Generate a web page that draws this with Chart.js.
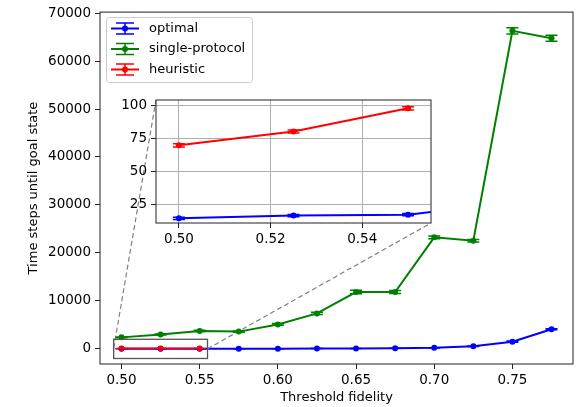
<!DOCTYPE html>
<html>
<head>
<meta charset="utf-8">
<script src="https://cdn.jsdelivr.net/npm/chart.js@4"></script>
<style>
  html, body { margin: 0; padding: 0; background: #fff; }
  #wrap { position: relative; width: 588px; height: 407px; }
  #wrap canvas { position: absolute; left: 0; top: 0; }
</style>
</head>
<body>
<div id="wrap">
  <canvas id="mainChart" width="588" height="407"></canvas>
  <canvas id="insetChart" width="588" height="407"></canvas>
</div>
<script>
// Threshold fidelities on the x axis
const fidelity = [0.5, 0.525, 0.55, 0.575, 0.6, 0.625, 0.65, 0.675, 0.7, 0.725, 0.75, 0.775];

// Mean time steps and error bar half-heights
const optimal = [14.3, 16.4, 17.1, 27, 40, 60, 90, 130, 220, 550, 1500, 4100];
const optimalErr = [0.8, 0.8, 0.8, 1, 2, 3, 5, 8, 15, 40, 120, 120];
const singleProtocol = [2400, 3000, 3750, 3600, 5100, 7400, 11850, 11850, 23250, 22550, 66300, 64750];
const singleErr = [100, 100, 120, 120, 180, 220, 350, 300, 300, 250, 650, 600];
const heuristicFid = [0.5, 0.525, 0.55];
const heuristic = [69.5, 80, 97.5];
const heuristicErr = [1.2, 1.2, 1.2];

// Tick labels
const mainXTicks = [0.5, 0.55, 0.6, 0.65, 0.7, 0.75];
const mainYTicks = [0, 10000, 20000, 30000, 40000, 50000, 60000, 70000];
const insetXTicks = [0.5, 0.52, 0.54];
const insetYTicks = [25, 50, 75, 100];

const legendNames = ['optimal', 'single-protocol', 'heuristic'];
const colors = ['#0000ff', '#008000', '#ff0000'];

Chart.defaults.font.family = 'DejaVu Sans';
Chart.defaults.font.size = 13;
Chart.defaults.color = '#000';

function points(xs, ys) {
  return xs.map((x, i) => ({ x: x, y: ys[i] }));
}

function makeDatasets() {
  const base = { borderWidth: 2, pointRadius: 3, pointBorderWidth: 0, pointHoverRadius: 3, tension: 0, fill: false };
  return [
    Object.assign({}, base, { label: legendNames[0], data: points(fidelity, optimal), errors: optimalErr,
      borderColor: colors[0], backgroundColor: colors[0], order: 2 }),
    Object.assign({}, base, { label: legendNames[1], data: points(fidelity, singleProtocol), errors: singleErr,
      borderColor: colors[1], backgroundColor: colors[1], order: 1 }),
    Object.assign({}, base, { label: legendNames[2], data: points(heuristicFid, heuristic), errors: heuristicErr,
      borderColor: colors[2], backgroundColor: colors[2], order: 0 })
  ];
}

// vertical error bars with caps, clipped to the plot area
const errorBars = {
  id: 'errorBars',
  afterDatasetsDraw(chart) {
    const { ctx, chartArea: a, scales: { x, y } } = chart;
    const cap = 6;
    ctx.save();
    ctx.beginPath();
    ctx.rect(a.left, a.top, a.right - a.left, a.bottom - a.top);
    ctx.clip();
    chart.data.datasets.forEach(ds => {
      ctx.strokeStyle = ds.borderColor;
      ctx.lineWidth = 1.5;
      ds.data.forEach((p, i) => {
        const px = x.getPixelForValue(p.x);
        const y1 = y.getPixelForValue(p.y - ds.errors[i]);
        const y2 = y.getPixelForValue(p.y + ds.errors[i]);
        ctx.beginPath();
        ctx.moveTo(px, y1); ctx.lineTo(px, y2);
        ctx.moveTo(px - cap, y1); ctx.lineTo(px + cap, y1);
        ctx.moveTo(px - cap, y2); ctx.lineTo(px + cap, y2);
        ctx.stroke();
      });
    });
    ctx.restore();
  }
};

// black frame round the axes
const frame = {
  id: 'frame',
  afterDraw(chart) {
    const { ctx, chartArea: a } = chart;
    ctx.save();
    ctx.strokeStyle = '#222';
    ctx.lineWidth = 1;
    ctx.strokeRect(a.left, a.top, a.right - a.left, a.bottom - a.top);
    ctx.restore();
  }
};

const whiteBack = {
  id: 'whiteBack',
  beforeDraw(chart) {
    const { ctx, chartArea: a } = chart;
    ctx.save();
    ctx.fillStyle = '#fff';
    ctx.fillRect(a.left, a.top, a.right - a.left, a.bottom - a.top);
    ctx.restore();
  }
};

function axisOpts(min, max, ticks, fmt, onChart) {
  return {
    type: 'linear', min: min, max: max,
    afterBuildTicks: s => { s.ticks = ticks.map(v => ({ value: v })); },
    grid: { drawOnChartArea: onChart, color: '#b0b0b0', lineWidth: 1, tickLength: 5, tickColor: '#222', tickWidth: 1 },
    border: { display: false },
    ticks: { color: '#000', padding: 4, maxRotation: 0, autoSkip: false, callback: fmt, font: { size: 13.5 } }
  };
}

// inset chart first so the main chart can join its corners
const insetX = axisOpts(0.495, 0.555, insetXTicks, v => v.toFixed(2), true);
insetX.afterFit = s => { s.height = 184; };
insetX.ticks.padding = 3;
const insetY = axisOpts(10.8, 103.8, insetYTicks, v => String(v), true);
insetY.afterFit = s => { s.width = 156; };

const insetChart = new Chart(document.getElementById('insetChart'), {
  type: 'line',
  data: { datasets: makeDatasets() },
  options: {
    responsive: false, animation: false, devicePixelRatio: 1,
    layout: { padding: { top: 100, right: 157, left: 0, bottom: 0 } },
    plugins: { legend: { display: false }, tooltip: { enabled: false } },
    scales: { x: insetX, y: insetY }
  },
  plugins: [whiteBack, errorBars, frame]
});

// zoom box, dashed connectors and legend on the main axes
const insetMarks = {
  id: 'insetMarks',
  afterDatasetsDraw(chart) {
    const { ctx, scales: { x, y } } = chart;
    const ia = insetChart.chartArea;
    ctx.save();
    ctx.strokeStyle = '#808080';
    ctx.lineWidth = 1.2;
    ctx.setLineDash([5, 3]);
    ctx.beginPath();
    ctx.moveTo(x.getPixelForValue(0.495), y.getPixelForValue(103.8));
    ctx.lineTo(ia.left, ia.top);
    ctx.moveTo(x.getPixelForValue(0.555), y.getPixelForValue(10.8));
    ctx.lineTo(ia.right, ia.bottom);
    ctx.stroke();
    ctx.setLineDash([]);
    ctx.strokeStyle = '#555';
    ctx.lineWidth = 1.3;
    const l = x.getPixelForValue(0.495), r = x.getPixelForValue(0.555);
    const t = y.getPixelForValue(2000), b = y.getPixelForValue(-2000);
    ctx.strokeRect(l, t, r - l, b - t);
    ctx.restore();
  },
  afterDraw(chart) {
    const ctx = chart.ctx;
    ctx.save();
    ctx.fillStyle = 'rgba(255,255,255,0.8)';
    ctx.strokeStyle = '#cccccc';
    ctx.lineWidth = 1;
    ctx.beginPath();
    ctx.roundRect(106.5, 17.5, 146, 65, 3);
    ctx.fill();
    ctx.stroke();
    ctx.font = '13px "DejaVu Sans"';
    ctx.textBaseline = 'middle';
    const rows = [28.5, 49, 69.5];
    legendNames.forEach((name, i) => {
      const cy = rows[i], cx = 125;
      ctx.strokeStyle = colors[i];
      ctx.fillStyle = colors[i];
      ctx.lineWidth = 2;
      ctx.beginPath();
      ctx.moveTo(111, cy); ctx.lineTo(139, cy);
      ctx.stroke();
      ctx.lineWidth = 1.5;
      ctx.beginPath();
      ctx.moveTo(cx, cy - 5.5); ctx.lineTo(cx, cy + 5.5);
      ctx.moveTo(cx - 9, cy - 5.5); ctx.lineTo(cx + 9, cy - 5.5);
      ctx.moveTo(cx - 9, cy + 5.5); ctx.lineTo(cx + 9, cy + 5.5);
      ctx.stroke();
      ctx.beginPath();
      ctx.arc(cx, cy, 3, 0, Math.PI * 2);
      ctx.fill();
      ctx.fillStyle = '#000';
      ctx.fillText(name, 149, cy);
    });
    ctx.restore();
  }
};

const mainX = axisOpts(0.48625, 0.78875, mainXTicks, v => v.toFixed(2), false);
mainX.afterFit = s => { s.height = 43; };
mainX.ticks.padding = 3;
mainX.title = { display: true, text: 'Threshold fidelity', color: '#000', padding: { top: 0, bottom: 2 } };
const mainY = axisOpts(-3150, 70200, mainYTicks, v => String(v), false);
mainY.afterFit = s => { s.width = 100; };
mainY.title = { display: true, text: 'Time steps until goal state', color: '#000', padding: { top: 26, bottom: 0 } };

const mainChart = new Chart(document.getElementById('mainChart'), {
  type: 'line',
  data: { datasets: makeDatasets() },
  options: {
    responsive: false, animation: false, devicePixelRatio: 1,
    layout: { padding: { top: 12, right: 15, left: 0, bottom: 0 } },
    plugins: { legend: { display: false }, tooltip: { enabled: false } },
    scales: { x: mainX, y: mainY }
  },
  plugins: [insetMarks, errorBars, frame]
});
</script>
</body>
</html>
